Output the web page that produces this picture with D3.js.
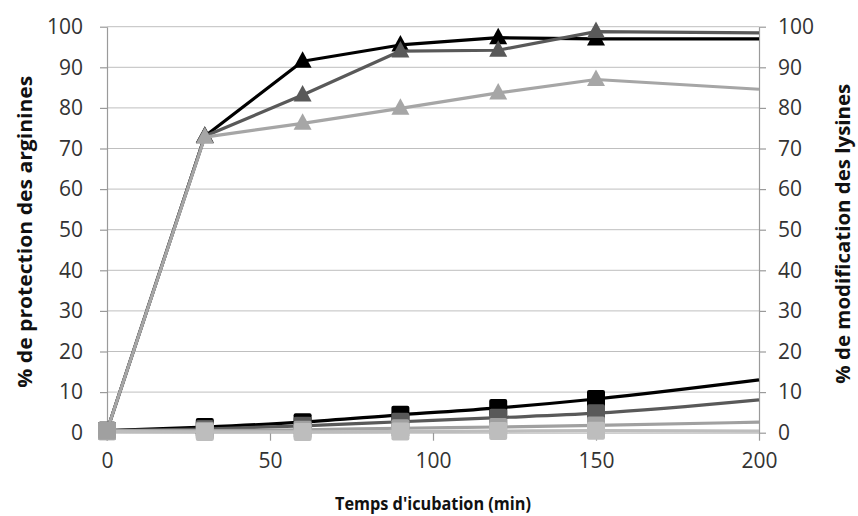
<!DOCTYPE html>
<html><head><meta charset="utf-8">
<script src="https://cdn.jsdelivr.net/npm/d3@7"></script>
<style>
html,body{margin:0;padding:0;background:#fff;}
svg{display:block;font-family:"Open Sans",sans-serif;}
</style></head>
<body><svg id="c" width="858" height="516"></svg>
<script>
// ---- data ----
const times = [0, 30, 60, 90, 120, 150, 200];
const xTicks = [0, 50, 100, 150, 200];
const yTicks = [0, 10, 20, 30, 40, 50, 60, 70, 80, 90, 100];

// arginine protection (triangles, left axis)
const argBlack = [0.5, 73, 91.5, 95.5, 97.3, 97, 97];
const argDark  = [0.5, 73, 83.2, 94, 94.2, 98.8, 98.5];
const argLight = [0.5, 72.8, 76.2, 79.9, 83.7, 87, 84.6];

// lysine modification (squares, right axis)
const lysBlack = [0.5, 1.4, 2.6, 4.4, 6.1, 8.3, 13];
const lysDark  = [0.5, 0.9, 1.7, 2.7, 3.7, 4.8, 8.1];
const lysGray  = [0.5, 0.5, 0.7, 1.1, 1.4, 1.8, 2.6];
const lysLight = [0.3, 0.2, 0.2, 0.3, 0.4, 0.5, 0.4];

const triSeries = [
  {values: argBlack, color: "#000000"},
  {values: argDark,  color: "#595959"},
  {values: argLight, color: "#a6a6a6"}
];
const sqSeries = [
  {values: lysBlack, color: "#000000"},
  {values: lysDark,  color: "#595959"},
  {values: lysGray,  color: "#a0a0a0"},
  {values: lysLight, color: "#bdbdbd"}
];

// ---- layout ----
const svg = d3.select("#c");
const x = d3.scaleLinear().domain([0, 200]).range([107, 759]);
const yL = d3.scaleLinear().domain([0, 100]).range([432.7, 26.7]);
const yR = d3.scaleLinear().domain([0, 100]).range([432.7, 26.7]);

// gridlines
svg.append("g").selectAll("line").data(yTicks.filter(d => d > 0)).join("line")
  .attr("x1", x(0)).attr("x2", x(200))
  .attr("y1", d => yL(d)).attr("y2", d => yL(d))
  .attr("stroke", "#bfbfbf").attr("stroke-width", 1);

// axes
function styleAxis(g) {
  g.select(".domain").attr("stroke", "#9a9a9a").attr("stroke-width", 1.2);
  g.selectAll(".tick line").attr("stroke", "#9a9a9a").attr("stroke-width", 1.2);
  g.selectAll(".tick text").attr("fill", "#333").style("font-size", "21px")
    .style("font-family", "'Open Sans', sans-serif");
}
const gxAxis = svg.append("g").attr("transform", `translate(0,${yL(0)})`)
  .call(d3.axisBottom(x).tickValues(xTicks).tickSize(8).tickSizeOuter(0).tickPadding(12).tickFormat(d3.format("d")));
styleAxis(gxAxis);
gxAxis.select(".domain").attr("stroke", "#bfbfbf");

const gyL = svg.append("g").attr("transform", `translate(${x(0)},0)`)
  .call(d3.axisLeft(yL).tickValues(yTicks).tickSize(7).tickSizeOuter(0).tickPadding(17).tickFormat(d3.format("d")));
styleAxis(gyL);
const gyR = svg.append("g").attr("transform", `translate(${x(200)},0)`)
  .call(d3.axisRight(yR).tickValues(yTicks).tickSize(7).tickSizeOuter(0).tickPadding(12).tickFormat(d3.format("d")));
styleAxis(gyR);
// extend left/right axis lines slightly below baseline
svg.append("line").attr("x1", x(0)).attr("x2", x(0)).attr("y1", yL(0)).attr("y2", yL(0) + 8)
  .attr("stroke", "#9a9a9a").attr("stroke-width", 1.2);

// axis titles
svg.append("text").attr("transform", `translate(24,${yL(50) + 2}) rotate(-90)`)
  .attr("text-anchor", "middle").attr("dominant-baseline", "central")
  .style("font-size", "20px").style("font-weight", "bold").attr("fill", "#111")
  .attr("textLength", 312).attr("lengthAdjust", "spacingAndGlyphs")
  .text("% de protection des arginines");
svg.append("text").attr("transform", `translate(842,${yL(50) + 4}) rotate(-90)`)
  .attr("text-anchor", "middle").attr("dominant-baseline", "central")
  .style("font-size", "20px").style("font-weight", "bold").attr("fill", "#111")
  .attr("textLength", 300).attr("lengthAdjust", "spacingAndGlyphs")
  .text("% de modification des lysines");
svg.append("text").attr("x", 433).attr("y", 503)
  .attr("text-anchor", "middle").attr("dominant-baseline", "central")
  .style("font-size", "17px").style("font-weight", "bold").attr("fill", "#111")
  .attr("textLength", 196).attr("lengthAdjust", "spacingAndGlyphs")
  .text("Temps d'icubation (min)");

// series
const plot = svg.append("g");
const triPath = "M0,-10 L9,6.5 L-9,6.5 Z";

sqSeries.forEach(s => {
  const pts = times.map((t, i) => [t, s.values[i]]);
  const line = d3.line().x(d => x(d[0])).y(d => yR(d[1])).curve(d3.curveMonotoneX);
  plot.append("path").datum(pts).attr("d", line)
    .attr("fill", "none").attr("stroke", s.color).attr("stroke-width", 3.2);
  plot.append("g").selectAll("rect").data(pts.filter(d => d[0] < 200)).join("rect")
    .attr("x", d => x(d[0]) - 9).attr("y", d => yR(d[1]) - 9)
    .attr("width", 18).attr("height", 18).attr("rx", 2)
    .attr("fill", s.color);
});

triSeries.forEach(s => {
  const pts = times.map((t, i) => [t, s.values[i]]);
  const line = d3.line().x(d => x(d[0])).y(d => yL(d[1]));
  plot.append("path").datum(pts).attr("d", line)
    .attr("fill", "none").attr("stroke", s.color).attr("stroke-width", 3.2)
    .attr("stroke-linejoin", "round");
  plot.append("g").selectAll("path").data(pts.filter(d => d[0] > 0 && d[0] < 200)).join("path")
    .attr("transform", d => `translate(${x(d[0])},${yL(d[1])})`)
    .attr("d", triPath).attr("fill", s.color);
});

// cover the start point with the lysine square (drawn on top as in the reference)
plot.append("rect").attr("x", x(0) - 9).attr("y", yR(lysGray[0]) - 9)
  .attr("width", 18).attr("height", 18).attr("rx", 2).attr("fill", "#a0a0a0");
</script></body></html>
